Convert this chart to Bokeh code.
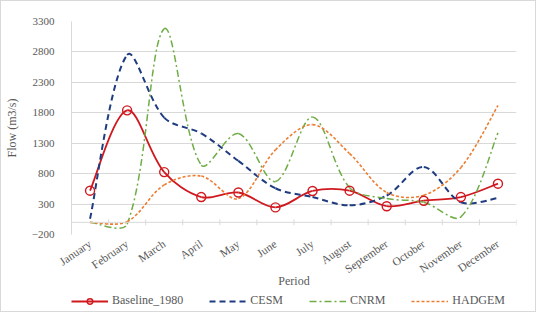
import numpy as np
from bokeh.plotting import figure
from bokeh.layouts import column
from bokeh.models import (FixedTicker, Span, Legend, LegendItem,
                          ColumnDataSource, Range1d)
from bokeh.embed import file_html
from bokeh.resources import INLINE

# ---------------- data ----------------
months = ["January", "February", "March", "April", "May", "June", "July",
          "August", "September", "October", "November", "December"]
baseline_1980 = [520, 1840, 825, 415, 490, 245, 515, 520, 265, 355, 415, 635]
cesm = [60, 2750, 1720, 1460, 1010, 560, 415, 280, 440, 910, 330, 400]
cnrm = [0, -30, 3180, 940, 1460, 670, 1730, 570, 390, 330, 90, 1470]
hadgem = [0, 10, 615, 760, 390, 1190, 1605, 1130, 490, 445, 900, 1920]
y_ticks = [-200, 300, 800, 1300, 1800, 2300, 2800, 3300]
series_names = ["Baseline_1980", "CESM", "CNRM", "HADGEM"]

# ---------------- layout constants ----------------
Y_START, Y_END = -200, 3300
FRAME_W, FRAME_H = 450, 220
FONT = "Liberation Serif"
TXT = "#595959"
GRID = "#D9D9D9"

RED = "#D0191F"
BLUE = "#1F3C80"
GREEN = "#70AD47"
ORANGE = "#ED7D31"
STYLES = [
    dict(line_color=RED, line_width=1.8, line_dash="solid"),
    dict(line_color=BLUE, line_width=2, line_dash="6 4"),
    dict(line_color=GREEN, line_width=1.5, line_dash="7 3 2 3"),
    dict(line_color=ORANGE, line_width=1.6, line_dash="3 2"),
]
MARKER = dict(marker="circle", size=9, line_color=RED, line_width=1.4, fill_color=None)

x_idx = list(range(len(months)))
all_series = [baseline_1980, cesm, cnrm, hadgem]


def smooth_segments(xs, ys):
    """Excel-like smoothed line: cubic bezier control points computed in screen space."""
    sx = FRAME_W / len(xs)
    sy = FRAME_H / (Y_END - Y_START)
    P = np.column_stack([np.asarray(xs, float) * sx, np.asarray(ys, float) * sy])
    n = len(P)
    d = np.linalg.norm(P[1:] - P[:-1], axis=1)
    T = np.zeros_like(P)
    T[0] = P[1] - P[0]
    T[-1] = P[-1] - P[-2]
    T[1:-1] = P[2:] - P[:-2]
    out_arm = np.zeros_like(P)
    in_arm = np.zeros_like(P)
    out_arm[0] = T[0] / 6
    in_arm[-1] = T[-1] / 6
    for i in range(1, n - 1):
        tot = d[i - 1] + d[i]
        in_arm[i] = T[i] / 3 * d[i - 1] / tot
        out_arm[i] = T[i] / 3 * d[i] / tot
    c0 = P[:-1] + out_arm[:-1]
    c1 = P[1:] - in_arm[1:]
    return dict(x0=P[:-1, 0] / sx, y0=P[:-1, 1] / sy,
                x1=P[1:, 0] / sx, y1=P[1:, 1] / sy,
                cx0=c0[:, 0] / sx, cy0=c0[:, 1] / sy,
                cx1=c1[:, 0] / sx, cy1=c1[:, 1] / sy)


p = figure(width=534, height=290, output_backend="svg", toolbar_location=None,
           x_range=Range1d(-0.5, len(months) - 0.5), y_range=Range1d(Y_START, Y_END),
           min_border_left=65, min_border_right=19, min_border_top=20,
           min_border_bottom=50)
p.outline_line_color = None
p.background_fill_color = "white"
p.border_fill_color = "white"

# grid
p.xgrid.visible = False
p.ygrid.grid_line_color = GRID
p.ygrid.grid_line_width = 1

# y axis
p.yaxis.ticker = FixedTicker(ticks=y_ticks)
p.yaxis.axis_line_color = GRID
p.yaxis.major_tick_line_color = None
p.yaxis.minor_tick_line_color = None
p.yaxis.major_label_standoff = 11
p.yaxis.major_label_text_font = FONT
p.yaxis.major_label_text_font_size = "11px"
p.yaxis.major_label_text_color = TXT
p.yaxis.axis_label = "Flow (m3/s)"
p.yaxis.axis_label_text_font = FONT
p.yaxis.axis_label_text_font_size = "12px"
p.yaxis.axis_label_text_font_style = "normal"
p.yaxis.axis_label_text_color = TXT
p.yaxis.axis_label_standoff = 10

# x axis
p.xaxis.ticker = FixedTicker(ticks=x_idx)
p.xaxis.major_label_overrides = {i: m for i, m in enumerate(months)}
p.xaxis.major_label_orientation = 0.6
p.xaxis.axis_line_color = None
p.xaxis.major_tick_line_color = None
p.xaxis.minor_tick_line_color = None
p.xaxis.major_label_standoff = 2
p.xaxis.major_label_text_font = FONT
p.xaxis.major_label_text_font_size = "11.5px"
p.xaxis.major_label_text_color = TXT
p.xaxis.axis_label = "Period"
p.xaxis.axis_label_text_font = FONT
p.xaxis.axis_label_text_font_size = "12px"
p.xaxis.axis_label_text_font_style = "normal"
p.xaxis.axis_label_text_color = TXT
p.xaxis.axis_label_standoff = -9

# zero line with category-boundary tick marks
p.add_layout(Span(location=0, dimension="width", line_color=GRID, line_width=1))
bounds = [i - 0.5 for i in range(len(months) + 1)]
p.segment(x0=bounds, x1=bounds, y0=[-48] * len(bounds), y1=[48] * len(bounds),
          line_color=GRID, line_width=1)

for vals, st in zip(all_series, STYLES):
    p.bezier(source=ColumnDataSource(smooth_segments(x_idx, vals)),
             x0="x0", y0="y0", x1="x1", y1="y1", cx0="cx0", cy0="cy0",
             cx1="cx1", cy1="cy1", **st)
p.scatter(x=x_idx, y=baseline_1980, **MARKER)

# ---------------- legend strip (series drawn off-view; only the legend shows) ----------------
pl = figure(width=534, height=20, output_backend="svg", toolbar_location=None,
            x_axis_location=None, y_axis_location=None,
            x_range=Range1d(-0.5, len(months) - 0.5), y_range=Range1d(10000, 10001),
            min_border=0, min_border_left=0, min_border_right=0,
            min_border_top=0, min_border_bottom=0)
pl.grid.visible = False
pl.outline_line_color = None
items = []
for i, (name, vals, st) in enumerate(zip(series_names, all_series, STYLES)):
    rs = [pl.line(x=x_idx, y=vals, **st)]
    if i == 0:
        rs.append(pl.scatter(x=x_idx, y=vals, **MARKER))
    items.append(LegendItem(label=name, renderers=rs))
legend = Legend(items=items, orientation="horizontal", location=(0, 3))
legend.glyph_width = 37
legend.glyph_height = 14
legend.label_height = 14
legend.label_standoff = 4
legend.spacing = 26
legend.padding = 0
legend.margin = 0
legend.border_line_color = None
legend.background_fill_alpha = 0
legend.label_text_font = FONT
legend.label_text_font_size = "12px"
legend.label_text_color = TXT
pl.add_layout(legend)

layout = column(p, pl, spacing=0, styles={"border": "1px solid #D9D9D9"})
open("out.html", "w").write(file_html(layout, INLINE))
